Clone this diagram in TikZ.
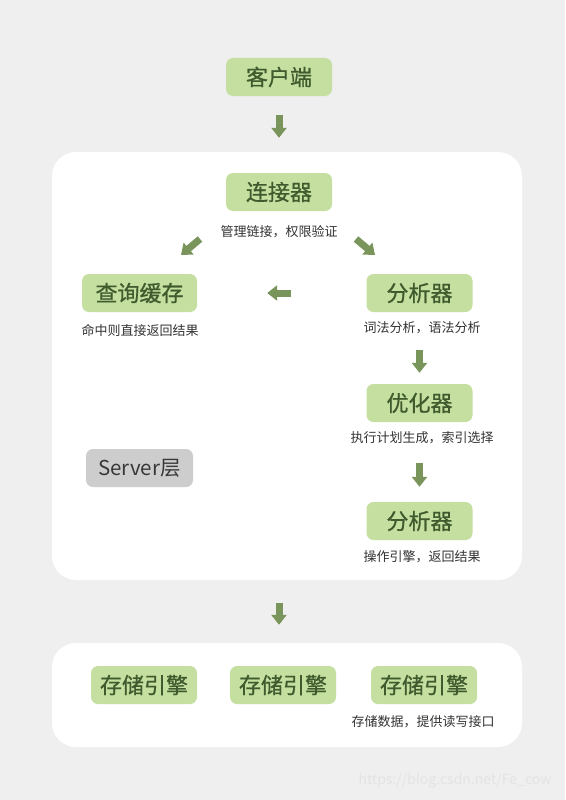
\documentclass[tikz,border=0pt]{standalone}
\usepackage{fontspec}
\setmainfont{Noto Sans CJK SC}
\newfontfamily\boxfont{Noto Sans CJK SC}[FakeBold=0.8]
\usepackage{tikz}
\usetikzlibrary{arrows.meta}
\definecolor{boxgreen}{HTML}{C5DFA1}
\definecolor{txtgreen}{HTML}{3F5A2C}
\definecolor{arrgreen}{HTML}{7A955C}
\definecolor{pagegray}{HTML}{EFEFEF}
\definecolor{srvgray}{HTML}{CDCDCD}
\definecolor{markgray}{HTML}{E3E3E3}
\tikzset{
  stage/.style={fill=boxgreen, text=txtgreen, rounded corners=7pt, minimum width=106pt, minimum height=38pt, inner sep=0pt, font=\boxfont\fontsize{22}{22}\selectfont},
  note/.style={text=black!80, inner sep=0pt, font=\fontsize{13}{13}\selectfont},
  flow/.style={draw=arrgreen, line width=7pt, -{Triangle[width=15pt,length=10pt]}},
  panel/.style={fill=white, rounded corners=24pt, inner sep=0pt},
}

\begin{document}
\begin{tikzpicture}[x=1pt, y=-1pt]

    \fill[pagegray] (0,0) rectangle (565,800);
    \useasboundingbox (0,0) rectangle (565,800);

    \node[panel, minimum width=470pt, minimum height=428pt] (server) at (287,366) {};
    \node[panel, minimum width=470pt, minimum height=104pt] (storage) at (287,695) {};

    \node[stage] (client) at (279,77) {客户端};
    \node[stage] (conn) at (279,192) {连接器};
    \node[note] (connnote) at (279,232) {管理链接，权限验证};
    \node[stage, minimum width=115pt] (cache) at (139.5,293) {查询缓存};
    \node[note] (cachenote) at (140,330) {命中则直接返回结果};
    \node[stage] (parser) at (419.5,293) {分析器};
    \node[note] (parsernote) at (422,328) {词法分析，语法分析};
    \node[stage] (optim) at (419.5,403) {优化器};
    \node[note] (optimnote) at (422,438) {执行计划生成，索引选择};
    \node[stage] (exec) at (419.5,521) {分析器};
    \node[note] (execnote) at (422,557) {操作引擎，返回结果};
    \node[stage, fill=srvgray, text=black!78, minimum width=107pt, font=\fontsize{20.5}{20.5}\selectfont] (srvlayer) at (139.5,468) {Server层};

    \node[stage] (engA) at (144,685) {存储引擎};
    \node[stage] (engB) at (283,685) {存储引擎};
    \node[stage] (engC) at (424,685) {存储引擎};
    \node[note] (engnote) at (423,722) {存储数据，提供读写接口};

    \node[text=markgray, inner sep=0pt, font=\fontsize{14}{14}\selectfont] (mark) at (455,781) {https://blog.csdn.net/Fe\_cow};

    \coordinate (dl0) at (200,239);
    \coordinate (dl1) at (181,255);
    \coordinate (dr0) at (356,239);
    \coordinate (dr1) at (375,255);

    \draw[flow, shorten <=18.5pt, shorten >=35pt] (client) -- (conn);
    \draw[flow] (dl0) -- (dl1);
    \draw[flow] (dr0) -- (dr1);
    \draw[flow, shorten <=75pt, shorten >=70pt] (parser) -- (cache);
    \draw[flow, shorten <=38pt, shorten >=11pt] (parser) -- (optim);
    \draw[flow, shorten <=41pt, shorten >=15pt] (optim) -- (exec);
    \draw[flow, shorten <=23pt, shorten >=18pt] (server.south -| client) -- (storage.north -| client);

\end{tikzpicture}
\end{document}
